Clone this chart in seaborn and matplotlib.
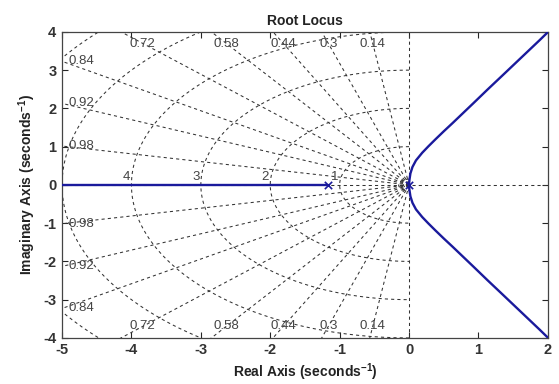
import numpy as np
import matplotlib
matplotlib.use("Agg")
import matplotlib.pyplot as plt
import seaborn as sns

# Root locus branches (real, imaginary parts)
upper_re = [0.0, 0.005, 0.02, 0.05, 0.10, 0.19, 0.28, 0.38, 0.50, 0.63, 0.78, 0.93, 1.13, 1.34, 1.52, 1.70, 1.88, 2.05]
upper_im = [0.0, 0.12, 0.30, 0.47, 0.64, 0.84, 1.01, 1.19, 1.40, 1.62, 1.88, 2.14, 2.49, 2.85, 3.16, 3.47, 3.78, 4.08]
lower_re = [0.0, 0.005, 0.02, 0.05, 0.10, 0.19, 0.28, 0.38, 0.50, 0.63, 0.78, 0.93, 1.13, 1.34, 1.52, 1.70, 1.88, 2.05]
lower_im = [0.0, -0.12, -0.30, -0.47, -0.64, -0.84, -1.01, -1.19, -1.40, -1.62, -1.88, -2.14, -2.49, -2.85, -3.16, -3.47, -3.78, -4.08]
real_re = [-1.17, -5.5]
real_im = [0.0, 0.0]

# Open-loop poles
pole_re = [0.0, -1.17]
pole_im = [0.0, 0.0]

# s-plane grid: damping ratios and natural frequencies
zetas = [0.14, 0.3, 0.44, 0.58, 0.72, 0.84, 0.92, 0.98]
wns = [1, 2, 3, 4, 5, 6]
wn_labels = ["1", "2", "3", "4", "5", "6"]

xticks = [-5, -4, -3, -2, -1, 0, 1, 2]
yticks = [-4, -3, -2, -1, 0, 1, 2, 3, 4]

sns.set_style("white")
plt.rcParams["font.family"] = ["Liberation Sans", "DejaVu Sans"]
plt.rcParams["mathtext.fontset"] = "custom"
plt.rcParams["mathtext.bf"] = "Liberation Sans:bold"
plt.rcParams["mathtext.rm"] = "Liberation Sans:bold"
plt.rcParams["mathtext.default"] = "bf"

fig = plt.figure(figsize=(5.59, 3.84), dpi=100)
ax = fig.add_axes([0.111, 0.120, 0.869, 0.797])

grid_kw = dict(color="#333333", lw=0.75, ls=(0, (3, 3)), zorder=1)
label_kw = dict(color="#444444", fontsize=9.5, zorder=2)

# damping-ratio rays
for z in zetas:
    th = np.arccos(z)
    r = np.array([0, 10])
    for sgn in (1, -1):
        ax.plot(-r * np.cos(th), sgn * r * np.sin(th), **grid_kw)
    # labels where the ray meets the plot border
    yl = 5 * np.tan(th)
    if yl < 3.7:
        for sgn in (1, -1):
            ax.text(-4.9, sgn * yl, f"{z:g}", ha="left", va="center", **label_kw)
    else:
        xl = -3.7 / np.tan(th)
        for sgn in (1, -1):
            ax.text(xl, sgn * 3.68, f"{z:g}", ha="center", va="center", **label_kw)

# natural-frequency arcs in the left half plane
phi = np.linspace(np.pi / 2, 3 * np.pi / 2, 300)
for w, lab in zip(wns, wn_labels):
    ax.plot(w * np.cos(phi), w * np.sin(phi), **grid_kw)
    if w <= 4:
        ax.text(-w - 0.02, 0.05, lab, ha="right", va="bottom", **label_kw)
for w in (0.08, 0.15):
    ax.plot(w * np.cos(phi), w * np.sin(phi), **grid_kw)

# axes lines of the s-plane
ax.axvline(0, **grid_kw)
ax.axhline(0, **grid_kw)

blue = "#1a1a9c"
sns.lineplot(x=upper_re, y=upper_im, sort=False, estimator=None, color=blue, lw=1.7, ax=ax, zorder=3)
sns.lineplot(x=lower_re, y=lower_im, sort=False, estimator=None, color=blue, lw=1.7, ax=ax, zorder=3)
sns.lineplot(x=real_re, y=real_im, sort=False, estimator=None, color=blue, lw=1.7, ax=ax, zorder=3)
sns.scatterplot(x=pole_re, y=pole_im, marker="x", s=28, color=blue, linewidth=1.2, ax=ax, zorder=4)

ax.set_xlim(-5, 2)
ax.set_ylim(-4, 4)
ax.set_xticks(xticks)
ax.set_yticks(yticks)
ax.set_xticklabels([str(t) for t in xticks], fontsize=10.5, fontweight="bold", color="#333333")
ax.set_yticklabels([str(t) for t in yticks], fontsize=10.5, fontweight="bold", color="#333333")
ax.tick_params(direction="in", length=4, width=0.8, top=True, right=True, bottom=True, left=True, pad=4)
for sp in ax.spines.values():
    sp.set_color("#444444")
    sp.set_linewidth(0.9)

ax.set_title("Root Locus", fontsize=10, fontweight="bold", color="#222222", pad=5)
ax.set_xlabel(r"Real Axis (seconds$^{-1}$)", fontsize=10, fontweight="bold", color="#222222", labelpad=3)
ax.set_ylabel(r"Imaginary Axis (seconds$^{-1}$)", fontsize=10, fontweight="bold", color="#222222", labelpad=4)

fig.savefig("out.png", dpi=100)
